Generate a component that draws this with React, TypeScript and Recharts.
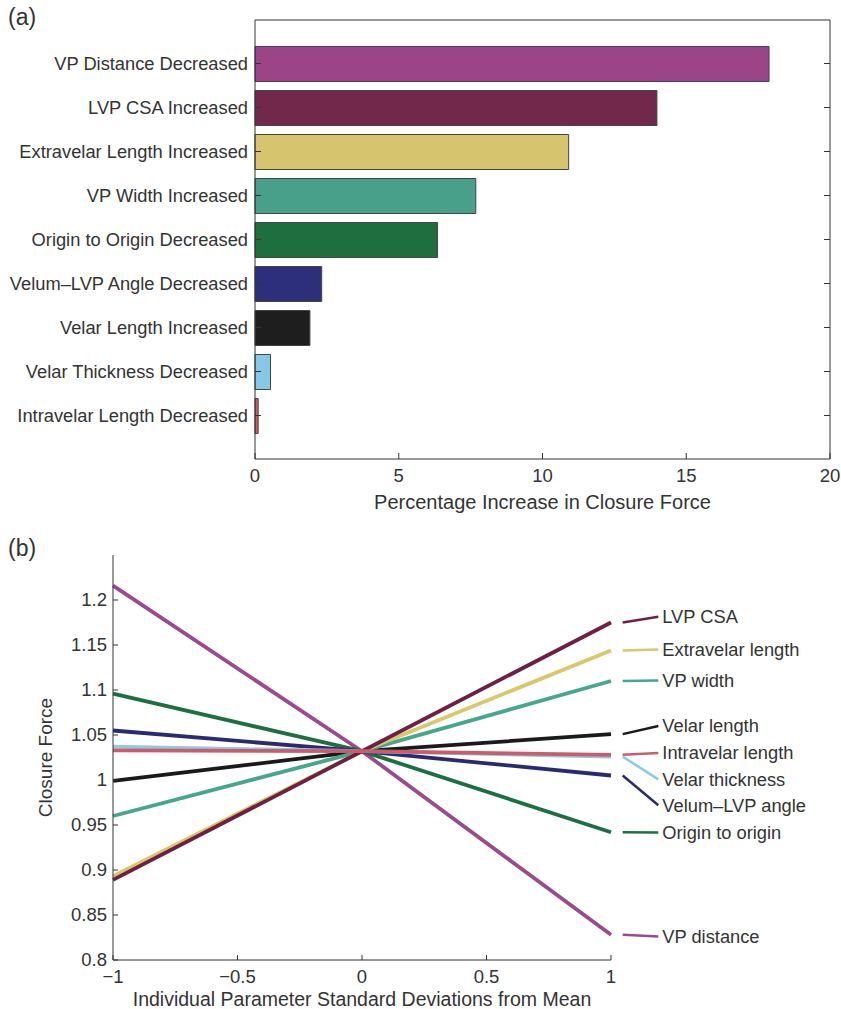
import {
  BarChart, Bar, Cell, XAxis, YAxis,
  LineChart, Line, ReferenceLine, ReferenceDot,
} from 'recharts';

const FONT = '"Liberation Sans", Arial, Helvetica, sans-serif';
const INK = '#333333';

// (a) bar panel
const BAR_LABELS = [
  'VP Distance Decreased',
  'LVP CSA Increased',
  'Extravelar Length Increased',
  'VP Width Increased',
  'Origin to Origin Decreased',
  'Velum\u2013LVP Angle Decreased',
  'Velar Length Increased',
  'Velar Thickness Decreased',
  'Intravelar Length Decreased',
];
const BAR_VALUES = [17.88, 13.98, 10.91, 7.68, 6.35, 2.32, 1.91, 0.54, 0.11];
const BAR_COLORS = ['#9b4487', '#72284a', '#d6c46e', '#48a08a', '#1e6e3e', '#2e2f7a', '#1e1e1e', '#87c8e6', '#d45a6a'];
const BAR_TICKS = [0, 5, 10, 15, 20];

// (b) line panel
const X_VALUES = [-1, 0, 1];
const SERIES_NAMES = [
  'VP distance', 'Origin to origin', 'Velum\u2013LVP angle', 'Velar thickness',
  'Velar length', 'VP width', 'Extravelar length', 'LVP CSA', 'Intravelar length',
];
const SERIES_KEYS = ['vpDist', 'origin', 'velumLvp', 'thickness', 'velarLen', 'vpWidth', 'extravelar', 'lvpCsa', 'intravelar'];
const SERIES_COLORS = ['#9b4a8e', '#1c7040', '#2a2a72', '#8ccbe4', '#1a1a1a', '#44a78e', '#d8c86a', '#6e1f45', '#cc5c6c'];
const VP_DIST = [1.216, 1.032, 0.828];
const ORIGIN = [1.096, 1.032, 0.942];
const VELUM_LVP = [1.055, 1.032, 1.005];
const THICKNESS = [1.037, 1.032, 1.026];
const VELAR_LEN = [0.999, 1.032, 1.051];
const VP_WIDTH = [0.96, 1.032, 1.11];
const EXTRAVELAR = [0.893, 1.032, 1.144];
const LVP_CSA = [0.889, 1.032, 1.175];
const INTRAVELAR = [1.033, 1.032, 1.028];
const SERIES_VALUES = [VP_DIST, ORIGIN, VELUM_LVP, THICKNESS, VELAR_LEN, VP_WIDTH, EXTRAVELAR, LVP_CSA, INTRAVELAR];
// where the right-hand labels sit (closure force units)
const LABEL_Y = [0.826, 0.9416, 0.972, 1.0007, 1.06, 1.1105, 1.145, 1.1815, 1.03];
const Y_TICKS = [0.8, 0.85, 0.9, 0.95, 1, 1.05, 1.1, 1.15, 1.2];
const X_TICKS = [-1, -0.5, 0, 0.5, 1];

const barData = BAR_LABELS.map((name, i) => ({ name, value: BAR_VALUES[i] }));
const lineData = X_VALUES.map((x, i) => {
  const row: Record<string, number> = { x };
  SERIES_KEYS.forEach((k, j) => { row[k] = SERIES_VALUES[j][i]; });
  return row;
});

const fmt = (v: number) => (v < 0 ? '\u2212' + String(-v) : String(v));

function BottomTick({ x, y, payload, len = 6 }: any) {
  return (
    <g>
      <line x1={x} x2={x} y1={y} y2={y - len} stroke={INK} />
      <text x={x} y={y + 23} textAnchor="middle" fontSize={18.5} fill={INK} fontFamily={FONT}>
        {fmt(payload.value)}
      </text>
    </g>
  );
}

function TopTick({ x, y }: any) {
  return <line x1={x} x2={x} y1={y} y2={y + 6} stroke={INK} />;
}

function RightTick({ x, y }: any) {
  return <line x1={x} x2={x - 6} y1={y} y2={y} stroke={INK} />;
}

function CategoryTick({ x, y, payload }: any) {
  return (
    <g>
      <line x1={x} x2={x + 6} y1={y} y2={y} stroke={INK} />
      <text x={x - 7} y={y + 6} textAnchor="end" fontSize={18.3} fill={INK} fontFamily={FONT}>
        {payload.value}
      </text>
    </g>
  );
}

function ForceTick({ x, y, payload }: any) {
  return (
    <g>
      <line x1={x} x2={x + 5} y1={y} y2={y} stroke={INK} />
      <text x={x - 6} y={y + 6} textAnchor="end" fontSize={18.5} fill={INK} fontFamily={FONT}>
        {String(payload.value)}
      </text>
    </g>
  );
}

const panelTag = { position: 'absolute' as const, fontSize: 23, fontFamily: FONT, color: INK };

export default function App() {
  return (
    <div style={{ position: 'absolute', left: 0, top: 0, width: 841, height: 1009, background: '#fff' }}>
      <div style={{ ...panelTag, left: 8, top: 4 }}>(a)</div>
      <div style={{ ...panelTag, left: 8, top: 535 }}>(b)</div>

      <div style={{ position: 'absolute', left: 0, top: 0 }}>
        <BarChart
          width={841}
          height={520}
          data={barData}
          layout="vertical"
          margin={{ top: 19, right: 10, bottom: 0, left: 0 }}
          barSize={35}
        >
          <XAxis
            type="number"
            domain={[0, 20]}
            ticks={BAR_TICKS}
            height={61}
            stroke={INK}
            tickSize={0}
            tickMargin={0}
            tick={<BottomTick />}
            label={{ value: 'Percentage Increase in Closure Force', position: 'insideBottom', offset: 11, fontSize: 20, fill: INK, fontFamily: FONT }}
          />
          <XAxis
            xAxisId="top"
            orientation="top"
            type="number"
            domain={[0, 20]}
            ticks={BAR_TICKS}
            height={1}
            stroke={INK}
            tickSize={0}
            tickMargin={0}
            tick={<TopTick />}
          />
          <YAxis
            type="category"
            dataKey="name"
            width={255}
            stroke={INK}
            tickSize={0}
            tickMargin={0}
            tick={<CategoryTick />}
            padding={{ top: 21.5, bottom: 21.5 }}
            interval={0}
          />
          <YAxis
            yAxisId="right"
            orientation="right"
            type="category"
            dataKey="name"
            width={1}
            stroke={INK}
            tickSize={0}
            tickMargin={0}
            tick={<RightTick />}
            padding={{ top: 21.5, bottom: 21.5 }}
            interval={0}
          />
          <Bar dataKey="value" stroke="#444" strokeWidth={1} isAnimationActive={false}>
            {barData.map((d, i) => (
              <Cell key={d.name} fill={BAR_COLORS[i]} />
            ))}
          </Bar>
        </BarChart>
      </div>

      <div style={{ position: 'absolute', left: 0, top: 530 }}>
        <LineChart
          width={841}
          height={479}
          data={lineData}
          margin={{ top: 25, right: 230, bottom: 0, left: 0 }}
        >
          <XAxis
            dataKey="x"
            type="number"
            domain={[-1, 1]}
            ticks={X_TICKS}
            height={49}
            stroke={INK}
            tickSize={0}
            tickMargin={0}
            tick={<BottomTick len={5} />}
            label={{ value: 'Individual Parameter Standard Deviations from Mean', position: 'insideBottom', offset: 3, fontSize: 19.5, fill: INK, fontFamily: FONT }}
          />
          <YAxis
            type="number"
            domain={[0.8, 1.25]}
            ticks={Y_TICKS}
            width={113}
            stroke={INK}
            tickSize={0}
            tickMargin={0}
            tick={<ForceTick />}
            label={{ value: 'Closure Force', angle: -90, position: 'insideLeft', offset: 45, fontSize: 19, fill: INK, fontFamily: FONT, style: { textAnchor: 'middle' } }}
          />
          {SERIES_KEYS.map((k, i) => (
            <Line
              key={k}
              dataKey={k}
              type="linear"
              stroke={SERIES_COLORS[i]}
              strokeWidth={3.8}
              dot={false}
              isAnimationActive={false}
            />
          ))}
          {SERIES_KEYS.map((k, i) => (
            <ReferenceLine
              key={'lead-' + k}
              segment={[
                { x: 1.047, y: SERIES_VALUES[i][2] },
                { x: 1.19, y: LABEL_Y[i] },
              ]}
              stroke={SERIES_COLORS[i]}
              strokeWidth={2.5}
              ifOverflow="visible"
            />
          ))}
          {SERIES_NAMES.map((name, i) => (
            <ReferenceDot
              key={'lab-' + name}
              x={1.19}
              y={LABEL_Y[i]}
              r={0}
              stroke="none"
              fill="none"
              ifOverflow="visible"
              label={{ value: name, position: 'right', offset: 4, fontSize: 18.3, fill: INK, fontFamily: FONT }}
            />
          ))}
        </LineChart>
      </div>
    </div>
  );
}
